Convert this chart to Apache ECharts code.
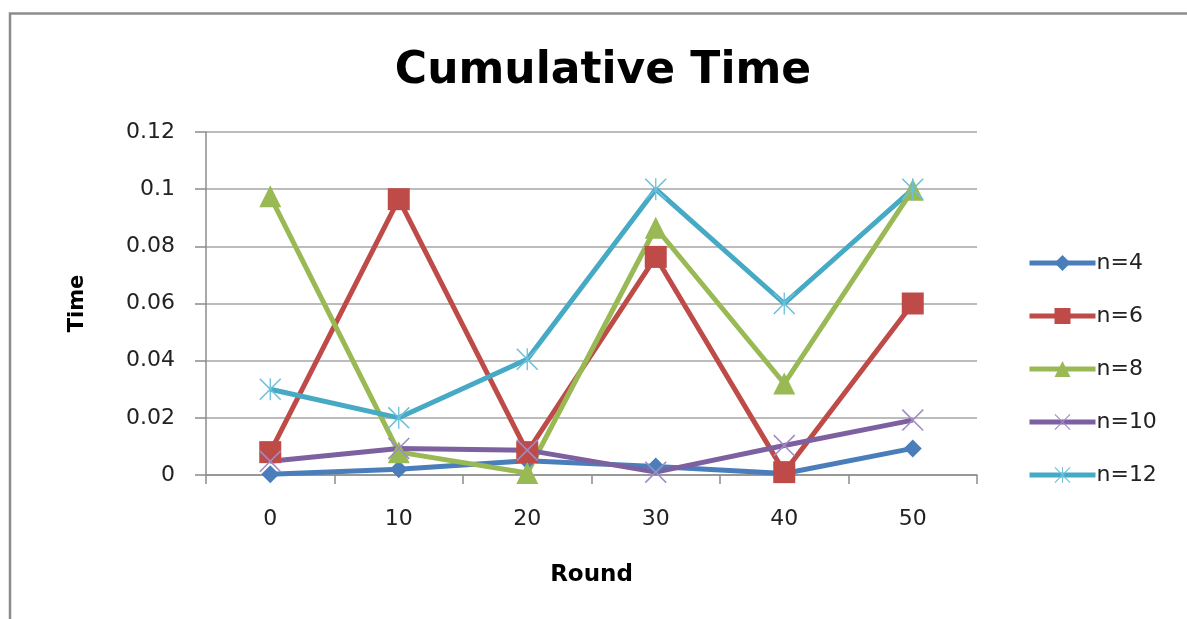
<!DOCTYPE html>
<html>
<head>
<meta charset="utf-8">
<script src="https://cdn.jsdelivr.net/npm/echarts@6/dist/echarts.min.js"></script>
<style>html,body{margin:0;padding:0;background:#fff;}#c{width:1187px;height:619px;}</style>
</head>
<body>
<div id="c"></div>
<script>
const rounds = ['0', '10', '20', '30', '40', '50'];
const n4  = [0.0003, 0.002, 0.005, 0.003, 0.0005, 0.0093];
const n6  = [0.008, 0.0965, 0.008, 0.0763, 0.001, 0.060];
const n8  = [0.0975, 0.008, 0.0007, 0.0865, 0.032, 0.0998];
const n10 = [0.0048, 0.0093, 0.0087, 0.001, 0.0103, 0.0192];
const n12 = [0.030, 0.020, 0.0405, 0.100, 0.060, 0.100];
const yTicks = [0, 0.02, 0.04, 0.06, 0.08, 0.1, 0.12];

const FONT = '"DejaVu Sans", "Liberation Sans", sans-serif';
const crossPath = 'path://M0,1L1,0L20,19L19,20ZM19,0L20,1L1,20L0,19Z';
const starPath = 'path://M0,1L1,0L20,19L19,20ZM19,0L20,1L1,20L0,19ZM9.4,0L10.6,0L10.6,20L9.4,20Z';

function mk(name, data, color, symbol, size, symColor) {
  return {
    name, type: 'line', data,
    symbol, symbolSize: size,
    lineStyle: { color, width: 5 },
    itemStyle: { color: symColor || color },
    emphasis: { disabled: true },
    z: 2
  };
}

const chart = echarts.init(document.getElementById('c'), null, { renderer: 'canvas' });
chart.setOption({
  animation: false,
  backgroundColor: '#fff',
  graphic: [{
    type: 'polyline', shape: { points: [[10, 640], [10, 13.5], [1200, 13.5]] },
    style: { fill: 'none', stroke: '#8c8c8c', lineWidth: 2.5 }, silent: true
  }],
  title: {
    text: 'Cumulative Time', left: 603, top: 50, textAlign: 'center', padding: 0,
    textStyle: { fontFamily: FONT, fontSize: 44, fontWeight: 'bold', color: '#000' }
  },
  grid: { left: 206, right: 210, top: 132, bottom: 144 },
  legend: {
    orient: 'vertical', left: 1027, top: 252, padding: 0,
    itemWidth: 66, itemHeight: 20, itemGap: 31,
    lineStyle: { width: 5 },
    textStyle: { fontFamily: FONT, fontSize: 22, color: '#222', padding: [0, 0, 0, -4] },
    data: ['n=4', 'n=6', 'n=8', 'n=10', 'n=12']
  },
  xAxis: {
    type: 'category', data: rounds, boundaryGap: true,
    name: 'Round', nameLocation: 'middle', nameGap: 89,
    nameTextStyle: { fontFamily: FONT, fontSize: 23, fontWeight: 'bold', color: '#000' },
    axisLine: { lineStyle: { color: '#8c8c8c', width: 1.5 } },
    axisTick: { show: true, length: 9, inside: false, lineStyle: { color: '#8c8c8c', width: 1.5 } },
    axisLabel: { fontFamily: FONT, fontSize: 22, color: '#222', margin: 33 },
    splitLine: { show: false }
  },
  yAxis: {
    type: 'value', min: 0, max: 0.12, interval: 0.02,
    name: 'Time', nameLocation: 'middle', nameGap: 118, nameRotate: 90,
    nameTextStyle: { fontFamily: FONT, fontSize: 21, fontWeight: 'bold', color: '#000' },
    axisLine: { show: true, lineStyle: { color: '#8c8c8c', width: 1.5 } },
    axisTick: { show: true, length: 11, lineStyle: { color: '#8c8c8c', width: 1.5 } },
    axisLabel: {
      fontFamily: FONT, fontSize: 22, color: '#222', margin: 31,
      formatter: v => { const t = yTicks.find(x => Math.abs(x - v) < 1e-9); return String(+(t ?? v).toFixed(2)); }
    },
    splitLine: { show: true, lineStyle: { color: '#a6a6a6', width: 1.5 } }
  },
  series: [
    mk('n=4', n4, '#4a7ebb', 'diamond', 18),
    mk('n=6', n6, '#be4b48', 'rect', 22),
    mk('n=8', n8, '#98b954', 'triangle', 22),
    mk('n=10', n10, '#7d60a0', crossPath, 22, '#a08cc4'),
    mk('n=12', n12, '#46aac5', starPath, 22, '#6cc0da')
  ]
});
</script>
</body>
</html>
